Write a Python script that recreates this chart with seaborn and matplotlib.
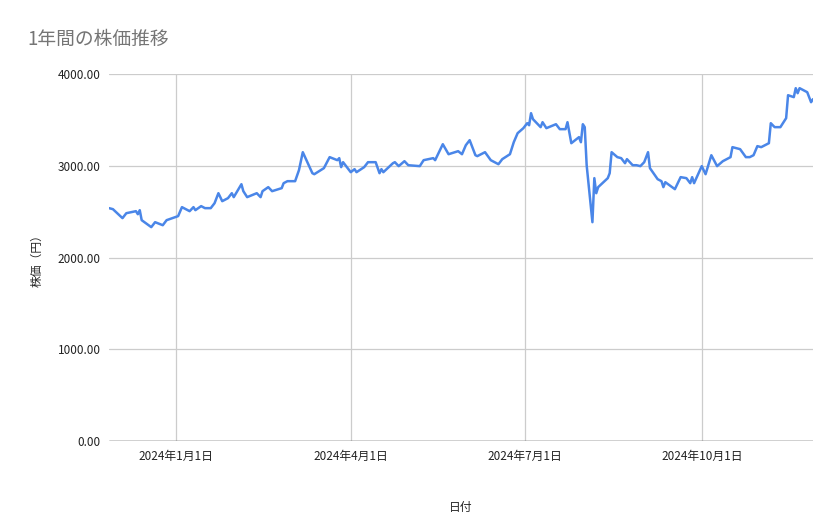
import matplotlib
matplotlib.use('Agg')
import matplotlib.pyplot as plt
import matplotlib.dates as mdates
from matplotlib.ticker import FuncFormatter
import pandas as pd
import seaborn as sns

start = '2023-11-27'
day_offsets = [0, 2, 7, 9, 14, 15, 16, 17, 22, 24, 28, 30, 36, 38, 42, 44, 45, 48, 50, 53,
               55, 57, 59, 62, 64, 65, 69, 70, 72, 77, 79, 80, 83, 85, 90, 91, 93, 97, 99, 101,
               106, 107, 112, 115, 119, 120, 121, 122, 126, 128, 129, 133, 135, 139, 141, 142, 143, 148, 149, 151,
               154, 156, 162, 164, 169, 170, 174, 177, 182, 184, 186, 188, 191, 192, 196, 199, 203, 205, 209, 211,
               213, 216, 218, 219, 220, 221, 225, 226, 228, 233, 235, 238, 239, 241, 245, 246, 247, 248, 249, 252,
               253, 254, 255, 260, 261, 262, 265, 267, 269, 270, 273, 275, 277, 279, 281, 282, 286, 288, 289, 290,
               295, 298, 301, 303, 304, 305, 309, 311, 314, 317, 320, 324, 325, 329, 332, 334, 336, 338, 340, 344,
               345, 347, 350, 353, 354, 357, 358, 359, 360, 364, 366, 367]
prices = [2540, 2529, 2431, 2485, 2507, 2474, 2518, 2409, 2333, 2387, 2354, 2409, 2453, 2551, 2507, 2551, 2518, 2562, 2540, 2540,
          2594, 2703, 2616, 2649, 2703, 2660, 2801, 2725, 2660, 2703, 2660, 2725, 2769, 2725, 2758, 2812, 2834, 2834, 2954, 3150,
          2921, 2910, 2976, 3096, 3063, 3085, 2987, 3041, 2932, 2965, 2932, 2987, 3041, 3041, 2921, 2965, 2932, 3030, 3041, 2998,
          3052, 3008, 2998, 3063, 3085, 3063, 3237, 3128, 3161, 3128, 3226, 3281, 3117, 3107, 3150, 3063, 3019, 3074, 3128, 3259,
          3357, 3412, 3466, 3444, 3575, 3510, 3423, 3477, 3412, 3455, 3401, 3401, 3477, 3248, 3314, 3259, 3455, 3423, 3008, 2387,
          2867, 2703, 2769, 2867, 2921, 3150, 3096, 3085, 3030, 3074, 3008, 3008, 2998, 3041, 3150, 2976, 2856, 2834, 2769, 2823,
          2747, 2878, 2867, 2812, 2878, 2812, 2998, 2910, 3117, 2998, 3052, 3096, 3205, 3183, 3096, 3096, 3117, 3216, 3205, 3248,
          3466, 3423, 3423, 3521, 3771, 3750, 3848, 3793, 3848, 3804, 3695, 3728]
tick_dates = ['2024-01-01', '2024-04-01', '2024-07-01', '2024-10-01']
tick_labels = ['2024年1月1日', '2024年4月1日', '2024年7月1日', '2024年10月1日']

df = pd.DataFrame({'date': pd.Timestamp(start) + pd.to_timedelta(day_offsets, unit='D'), 'price': prices})

sns.set_style('white')
plt.rcParams['font.family'] = ['Noto Sans CJK JP', 'DejaVu Sans']

fig = plt.figure(figsize=(8.39, 5.19), dpi=100)
ax = fig.add_axes([0.130, 0.150, 0.839, 0.707])
sns.lineplot(data=df, x='date', y='price', ax=ax, color='#4a86e8', linewidth=1.8)

ax.set_xlim(pd.Timestamp('2023-11-27'), pd.Timestamp('2024-11-28'))
ax.set_ylim(0, 4000)
ax.set_yticks([0, 1000, 2000, 3000, 4000])
ax.yaxis.set_major_formatter(FuncFormatter(lambda v, p: f'{v:.2f}'))
ax.set_xticks(pd.to_datetime(tick_dates))
ax.set_xticklabels(tick_labels)
ax.grid(True, color='#cccccc', linewidth=0.9)
for s in ax.spines.values():
    s.set_visible(False)
ax.axhline(0, color='#333333', linewidth=1)
ax.tick_params(length=0, labelsize=8.5, colors='#222222', pad=6)
ax.set_xlabel('日付', fontsize=8.5, labelpad=28)
ax.set_ylabel('株価（円）', fontsize=8.5, labelpad=10)
fig.text(0.033, 0.923, '1年間の株価推移', fontsize=13.5, color='#757575', va='center')

fig.savefig('out.png', dpi=100)
